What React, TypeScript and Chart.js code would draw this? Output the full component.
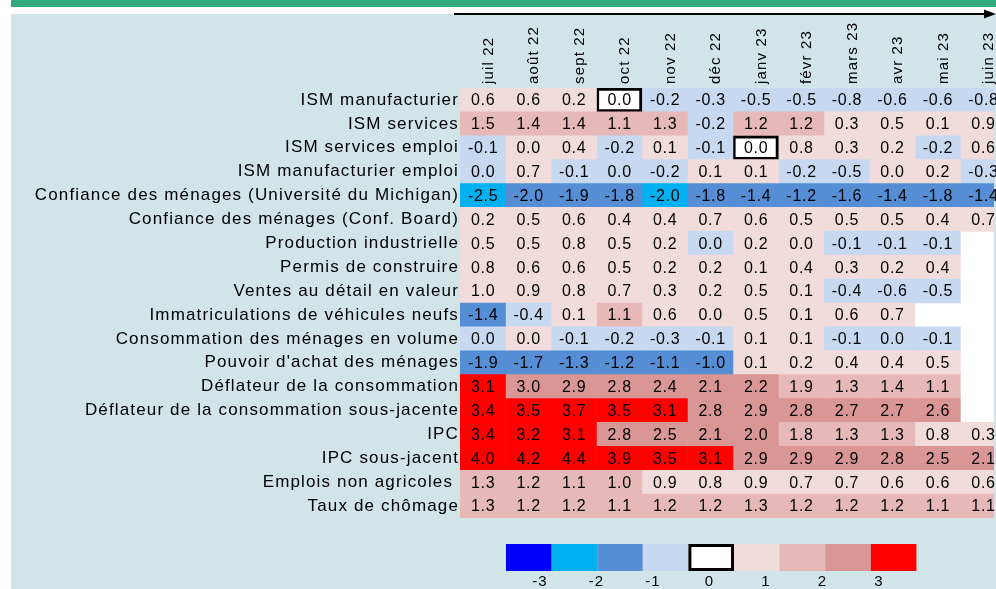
import React, { useEffect, useRef } from "react";
import { Chart, registerables } from "chart.js";

Chart.register(...registerables);

// ---- Data ----
const months = ["juil 22", "août 22", "sept 22", "oct 22", "nov 22", "déc 22", "janv 23", "févr 23", "mars 23", "avr 23", "mai 23", "juin 23"];

const rowLabels = [
  "ISM manufacturier",
  "ISM services",
  "ISM services emploi",
  "ISM manufacturier emploi",
  "Confiance des ménages (Université du Michigan)",
  "Confiance des ménages (Conf. Board)",
  "Production industrielle",
  "Permis de construire",
  "Ventes au détail en valeur",
  "Immatriculations de véhicules neufs",
  "Consommation des ménages en volume",
  "Pouvoir d'achat des ménages",
  "Déflateur de la consommation",
  "Déflateur de la consommation sous-jacente",
  "IPC",
  "IPC sous-jacent",
  "Emplois non agricoles ",
  "Taux de chômage",
];

// Estimated underlying values (shown rounded to one decimal)
const ismManufacturier = [0.6, 0.6, 0.2, 0.0, -0.2, -0.3, -0.5, -0.5, -0.8, -0.6, -0.6, -0.8];
const ismServices = [1.5, 1.4, 1.4, 1.1, 1.3, -0.2, 1.2, 1.2, 0.3, 0.5, 0.1, 0.9];
const ismServicesEmploi = [-0.1, 0.01, 0.4, -0.2, 0.1, -0.1, 0.0, 0.8, 0.3, 0.2, -0.2, 0.6];
const ismManufacturierEmploi = [-0.01, 0.7, -0.1, -0.01, -0.2, 0.1, 0.1, -0.2, -0.5, 0.01, 0.2, -0.3];
const confianceMichigan = [-2.5, -1.99, -1.9, -1.8, -2.01, -1.8, -1.4, -1.2, -1.6, -1.4, -1.8, -1.4];
const confianceConfBoard = [0.2, 0.5, 0.6, 0.4, 0.4, 0.7, 0.6, 0.5, 0.5, 0.5, 0.4, 0.7];
const productionIndustrielle = [0.5, 0.5, 0.8, 0.5, 0.2, -0.01, 0.2, 0.01, -0.1, -0.1, -0.1, null];
const permisConstruire = [0.8, 0.6, 0.6, 0.5, 0.2, 0.2, 0.1, 0.4, 0.3, 0.2, 0.4, null];
const ventesDetail = [0.99, 0.9, 0.8, 0.7, 0.3, 0.2, 0.5, 0.1, -0.4, -0.6, -0.5, null];
const immatriculations = [-1.4, -0.4, 0.1, 1.1, 0.6, 0.01, 0.5, 0.1, 0.6, 0.7, null, null];
const consommationVolume = [-0.01, 0.01, -0.1, -0.2, -0.3, -0.1, 0.1, 0.1, -0.1, -0.01, -0.1, null];
const pouvoirAchat = [-1.9, -1.7, -1.3, -1.2, -1.1, -1.0, 0.1, 0.2, 0.4, 0.4, 0.5, null];
const deflateur = [3.1, 2.99, 2.9, 2.8, 2.4, 2.1, 2.2, 1.9, 1.3, 1.4, 1.1, null];
const deflateurSousJacent = [3.4, 3.5, 3.7, 3.5, 3.1, 2.8, 2.9, 2.8, 2.7, 2.7, 2.6, null];
const ipc = [3.4, 3.2, 3.1, 2.8, 2.5, 2.1, 2.0, 1.8, 1.3, 1.3, 0.8, 0.3];
const ipcSousJacent = [4.0, 4.2, 4.4, 3.9, 3.5, 3.1, 2.9, 2.9, 2.9, 2.8, 2.5, 2.1];
const emploisNonAgricoles = [1.3, 1.2, 1.1, 1.0, 0.9, 0.8, 0.9, 0.7, 0.7, 0.6, 0.6, 0.6];
const tauxChomage = [1.3, 1.2, 1.2, 1.1, 1.2, 1.2, 1.3, 1.2, 1.2, 1.2, 1.1, 1.1];

const rows: (number | null)[][] = [
  ismManufacturier,
  ismServices,
  ismServicesEmploi,
  ismManufacturierEmploi,
  confianceMichigan,
  confianceConfBoard,
  productionIndustrielle,
  permisConstruire,
  ventesDetail,
  immatriculations,
  consommationVolume,
  pouvoirAchat,
  deflateur,
  deflateurSousJacent,
  ipc,
  ipcSousJacent,
  emploisNonAgricoles,
  tauxChomage,
];

const legendColors = ["#0000ff", "#00b0f0", "#558ed5", "#c6d9f1", "#ffffff", "#f2dcdb", "#e6b9b8", "#d99694", "#ff0000"];
const legendTicks = ["-3", "-2", "-1", "0", "1", "2", "3"];

// ---- Styling ----
const FONT = "'Liberation Sans', Arial, sans-serif";
const VISIBLE_COLS = 11.74;

function colorFor(v: number): string {
  if (v === 0) return legendColors[4];
  if (v > 0) {
    if (v < 1) return legendColors[5];
    if (v < 2) return legendColors[6];
    if (v < 3) return legendColors[7];
    return legendColors[8];
  }
  if (v > -1) return legendColors[3];
  if (v > -2) return legendColors[2];
  if (v > -3) return legendColors[1];
  return legendColors[0];
}

function fmt(v: number): string {
  const s = v.toFixed(1);
  return s === "-0.0" ? "0.0" : s;
}

const decorPlugin = {
  id: "decor",
  beforeDraw(chart: any) {
    const ctx = chart.ctx;
    const W = chart.width;
    const H = chart.height;
    ctx.save();
    ctx.fillStyle = "#ffffff";
    ctx.fillRect(0, 0, W, H);
    ctx.fillStyle = "#33a97e";
    ctx.fillRect(11, 0, W - 11, 7);
    ctx.fillStyle = "#d1e4e8";
    ctx.fillRect(11, 14, W - 11, H - 14);
    const a = chart.chartArea;
    ctx.fillStyle = "#ffffff";
    ctx.fillRect(a.left, a.top, a.right - a.left, a.bottom - a.top);
    // timeline arrow
    ctx.strokeStyle = "#000";
    ctx.lineWidth = 2;
    ctx.beginPath();
    ctx.moveTo(454, 14);
    ctx.lineTo(986, 14);
    ctx.stroke();
    ctx.fillStyle = "#000";
    ctx.beginPath();
    ctx.moveTo(984, 9.5);
    ctx.lineTo(996, 14);
    ctx.lineTo(984, 18.5);
    ctx.closePath();
    ctx.fill();
    ctx.restore();
    ctx.letterSpacing = "1.15px";
  },
  afterDatasetsDraw(chart: any) {
    const ctx = chart.ctx;
    ctx.save();
    ctx.letterSpacing = "0.7px";
    ctx.font = `16px ${FONT}`;
    ctx.fillStyle = "#000";
    ctx.textAlign = "center";
    ctx.textBaseline = "middle";
    months.forEach((_, j) => {
      const meta = chart.getDatasetMeta(j);
      meta.data.forEach((el: any, i: number) => {
        const v = rows[i][j];
        if (v == null) return;
        const p = el.getProps(["x", "base", "y"], true);
        ctx.fillText(fmt(v), (p.x + p.base) / 2 + 0.4, p.y + 1);
      });
    });
    ctx.restore();
  },
  afterDraw(chart: any) {
    const ctx = chart.ctx;
    ctx.save();
    // colour legend
    const x0 = 506;
    const w = 45.6;
    const y0 = 544;
    const h = 27;
    legendColors.forEach((c, k) => {
      ctx.fillStyle = c;
      ctx.fillRect(x0 + k * w, y0, w, h);
      if (k === 4) {
        ctx.strokeStyle = "#000";
        ctx.lineWidth = 3;
        ctx.strokeRect(x0 + k * w + 1.5, y0 + 1.5, w - 3, h - 3);
      }
    });
    ctx.letterSpacing = "1.2px";
    ctx.font = `15px ${FONT}`;
    ctx.fillStyle = "#000";
    ctx.textAlign = "center";
    ctx.textBaseline = "middle";
    legendTicks.forEach((t, k) => {
      ctx.fillText(t, 540 + k * 56.5, 582);
    });
    ctx.restore();
  },
};

export default function App() {
  const ref = useRef<HTMLCanvasElement | null>(null);

  useEffect(() => {
    document.body.style.margin = "0";
    const canvas = ref.current;
    if (!canvas) return;

    const datasets = months.map((m, j) => ({
      label: m,
      data: rows.map((r) => (r[j] == null ? null : [j, j + 1])),
      backgroundColor: (c: any) => {
        const v = rows[c.dataIndex]?.[j];
        return v == null ? "rgba(0,0,0,0)" : colorFor(v);
      },
      borderColor: "#000",
      borderWidth: (c: any) => (rows[c.dataIndex]?.[j] === 0 ? 3 : 0),
      borderSkipped: false,
      grouped: false,
      barPercentage: 1,
      categoryPercentage: 1,
    }));

    const chart = new Chart(canvas, {
      type: "bar",
      data: { labels: rowLabels, datasets: datasets as any },
      plugins: [decorPlugin],
      options: {
        indexAxis: "y",
        responsive: false,
        animation: false,
        events: [],
        layout: { padding: { left: 0, top: 0, right: 2, bottom: 71 } },
        plugins: { legend: { display: false }, tooltip: { enabled: false } },
        scales: {
          x: {
            type: "linear",
            position: "top",
            min: 0,
            max: VISIBLE_COLS,
            grid: { display: false, drawTicks: false },
            border: { display: false },
            afterBuildTicks: (axis: any) => {
              axis.ticks = months.map((_, i) => ({ value: i + 0.5 }));
            },
            afterFit: (axis: any) => {
              axis.height = 88;
            },
            ticks: {
              autoSkip: false,
              minRotation: 90,
              maxRotation: 90,
              padding: 4,
              labelOffset: 24,
              color: "#000",
              font: { family: FONT, size: 15 },
              callback: (_v: any, i: number) => months[i],
            },
          },
          y: {
            type: "category",
            grid: { display: false, drawTicks: false },
            border: { display: false },
            afterFit: (axis: any) => {
              axis.width = 460;
            },
            ticks: {
              autoSkip: false,
              padding: 1,
              color: "#000",
              font: { family: FONT, size: 17 },
            },
          },
        },
      } as any,
    });

    return () => chart.destroy();
  }, []);

  return (
    <div style={{ width: 996, height: 589 }}>
      <canvas ref={ref} width={996} height={589} style={{ display: "block" }} />
    </div>
  );
}
